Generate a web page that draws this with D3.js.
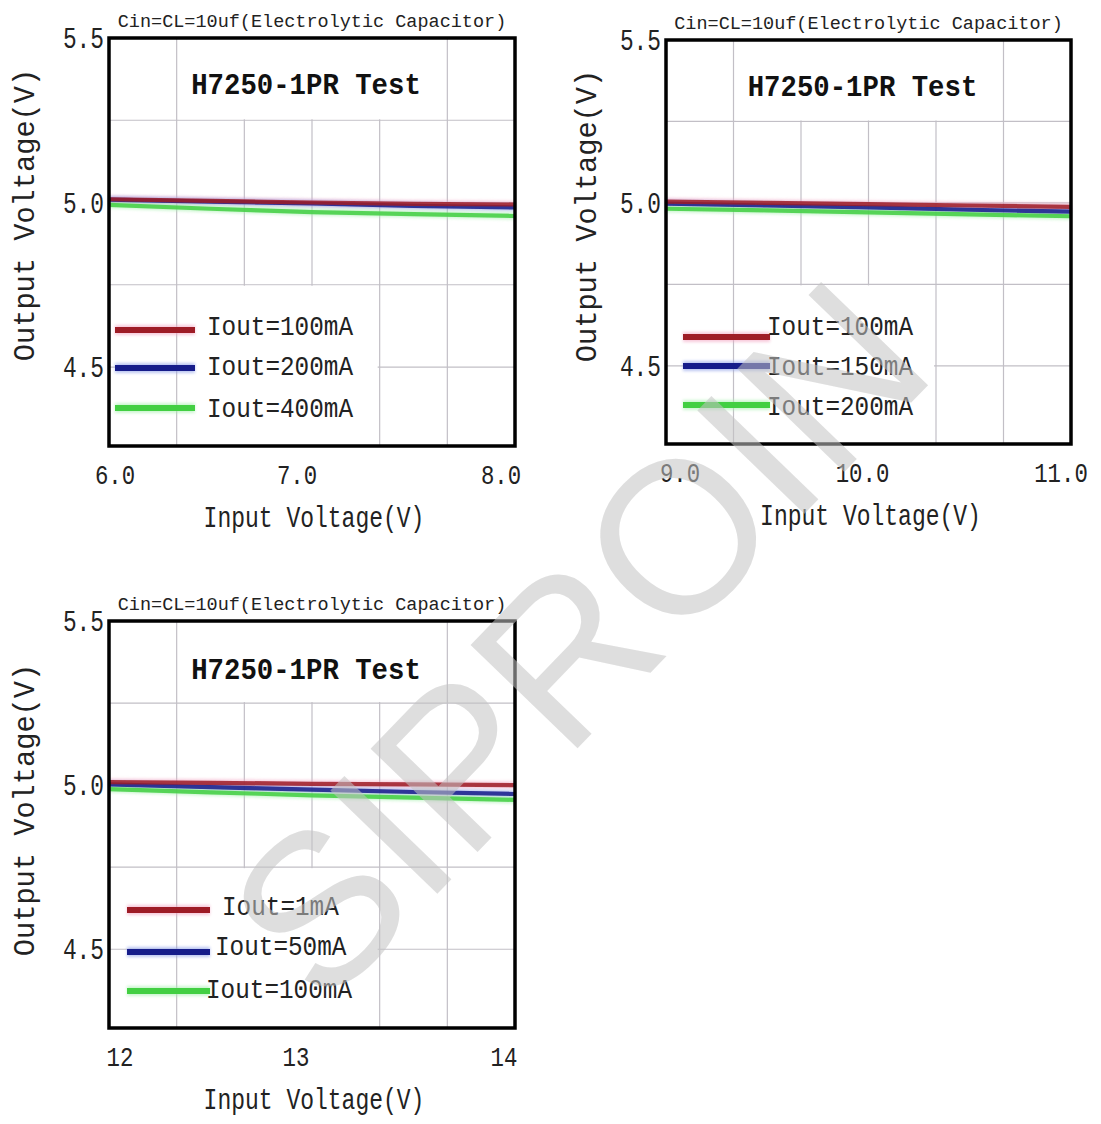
<!DOCTYPE html>
<html>
<head>
<meta charset="utf-8">
<script src="https://cdn.jsdelivr.net/npm/d3@7"></script>
<style>
  body { margin: 0; background: #fff; }
  svg text { font-family: "Liberation Mono", "DejaVu Sans Mono", monospace; fill: #222; }
</style>
</head>
<body>
<div id="chart-area"></div>
<script>
// values
const yTicks = [5.5, 5.0, 4.5];
const yTickLabels = ['5.5', '5.0', '4.5'];
const yGridValues = [5.25, 5.0, 4.75, 4.5];

const vin1 = [6.0, 6.5, 7.0, 7.5, 8.0];
const xTicks1 = [6.0, 7.0, 8.0];
const xTickLabels1 = ['6.0', '7.0', '8.0'];
const legend1 = ['Iout=100mA', 'Iout=200mA', 'Iout=400mA'];
const vout1a = [5.010, 5.005, 5.000, 4.996, 4.994];
const vout1b = [5.009, 5.003, 4.997, 4.990, 4.985];
const vout1c = [4.993, 4.981, 4.971, 4.965, 4.959];

const vin2 = [9.0, 9.5, 10.0, 10.5, 11.0];
const xTicks2 = [9.0, 10.0, 11.0];
const xTickLabels2 = ['9.0', '10.0', '11.0'];
const legend2 = ['Iout=100mA', 'Iout=150mA', 'Iout=200mA'];
const vout2a = [5.004, 5.000, 4.996, 4.992, 4.988];
const vout2b = [4.998, 4.992, 4.986, 4.979, 4.973];
const vout2c = [4.982, 4.977, 4.971, 4.965, 4.959];

const vin3 = [12, 12.5, 13, 13.5, 14];
const xTicks3 = [12, 13, 14];
const xTickLabels3 = ['12', '13', '14'];
const legend3 = ['Iout=1mA', 'Iout=50mA', 'Iout=100mA'];
const vout3a = [5.009, 5.007, 5.004, 5.002, 5.000];
const vout3b = [5.002, 4.994, 4.986, 4.979, 4.973];
const vout3c = [4.988, 4.978, 4.969, 4.962, 4.955];

const subtitle = 'Cin=CL=10uf(Electrolytic Capacitor)';
const title = 'H7250-1PR Test';
const lineColors = ['#9e1c28', '#141a8a', '#42cf42'];
const glowColors = ['#f3a6c4', '#8fa0e8', '#a8f0b0'];

const panels = [
  { vin: vin1, series: [vout1a, vout1b, vout1c], xTicks: xTicks1, xLabels: xTickLabels1, legend: legend1,
    box: [109, 38, 515, 446], xOff: [6, -15, -14], ytitleY: 215, ytitleX: 26, titleY: 86,
    legX: [115, 195], legTextX: [207, 207, 207], legY: [330, 368, 408], legTextY: [328, 368, 410] },
  { vin: vin2, series: [vout2a, vout2b, vout2c], xTicks: xTicks2, xLabels: xTickLabels2, legend: legend2,
    box: [666, 40, 1071, 444], xOff: [14, -6, -10], ytitleY: 216, ytitleX: 588, titleY: 88,
    legX: [683, 770], legTextX: [767, 767, 767], legY: [337, 366, 405], legTextY: [328, 368, 408] },
  { vin: vin3, series: [vout3a, vout3b, vout3c], xTicks: xTicks3, xLabels: xTickLabels3, legend: legend3,
    box: [109, 621, 515, 1028], xOff: [11, -16, -11], ytitleY: 810, ytitleX: 26, titleY: 671,
    legX: [127, 210], legTextX: [222, 215, 206], legY: [910, 952, 991], legTextY: [908, 948, 991] }
];

const svg = d3.select('#chart-area').append('svg')
  .attr('width', 1101)
  .attr('height', 1124);

// filters in page units so flat lines are not clipped away
const defs = svg.append('defs');
[['soft', 0.7], ['glow', 1.8]].forEach(([id, sd]) => {
  defs.append('filter').attr('id', id)
    .attr('filterUnits', 'userSpaceOnUse')
    .attr('x', 0).attr('y', 0).attr('width', 1101).attr('height', 1124)
    .append('feGaussianBlur').attr('stdDeviation', sd);
});

function label(g, s, x, y, size, perChar, anchor, bold) {
  return g.append('text')
    .attr('x', x)
    .attr('y', y)
    .attr('font-size', size)
    .attr('font-weight', bold ? 'bold' : 'normal')
    .attr('text-anchor', anchor || 'start')
    .attr('dominant-baseline', 'central')
    .attr('textLength', s.length * perChar)
    .attr('lengthAdjust', 'spacingAndGlyphs')
    .text(s);
}

panels.forEach(p => {
  const [left, top, right, bottom] = p.box;
  const g = svg.append('g');

  const x = d3.scaleLinear().domain(d3.extent(p.vin)).range([left, right]);
  const y = d3.scaleLinear().domain([4.26, 5.5]).range([bottom, top]);

  // grid: six vertical divisions, quarter volt horizontals
  const xStep = (p.vin[p.vin.length - 1] - p.vin[0]) / 6;
  const xGrid = d3.range(1, 6).map(i => p.vin[0] + i * xStep);

  g.selectAll('.vgrid').data(xGrid).enter().append('line')
    .attr('x1', d => x(d)).attr('x2', d => x(d))
    .attr('y1', top).attr('y2', bottom)
    .attr('stroke', '#c2bfc6').attr('stroke-width', 1.2);

  g.selectAll('.hgrid').data(yGridValues).enter().append('line')
    .attr('x1', left).attr('x2', right)
    .attr('y1', d => y(d)).attr('y2', d => y(d))
    .attr('stroke', '#c2bfc6').attr('stroke-width', 1.2);

  // white boxes behind the title and legend
  g.append('rect')
    .attr('x', x(xGrid[0]) + 2).attr('y', top)
    .attr('width', x(xGrid[4]) - x(xGrid[0]) - 4)
    .attr('height', y(5.25) - top - 1)
    .attr('fill', '#fff');
  g.append('rect')
    .attr('x', x(xGrid[0]) + 2).attr('y', y(4.75) + 1)
    .attr('width', x(xGrid[3]) - x(xGrid[0]) - 4)
    .attr('height', bottom - y(4.75) - 1)
    .attr('fill', '#fff');

  // data lines
  const line = d3.line().x((d, i) => x(p.vin[i])).y(d => y(d));
  p.series.forEach((s, i) => {
    g.append('path').datum(s)
      .attr('d', line).attr('fill', 'none')
      .attr('stroke', glowColors[i]).attr('stroke-width', 7)
      .attr('opacity', 0.6).attr('filter', 'url(#glow)');
  });
  [2, 1, 0].forEach(i => {
    g.append('path').datum(p.series[i])
      .attr('d', line).attr('fill', 'none')
      .attr('stroke', lineColors[i]).attr('stroke-width', 4.2)
      .attr('opacity', 0.85).attr('filter', 'url(#soft)');
  });

  // legend
  p.legend.forEach((name, i) => {
    g.append('line')
      .attr('x1', p.legX[0]).attr('x2', p.legX[1])
      .attr('y1', p.legY[i]).attr('y2', p.legY[i])
      .attr('stroke', glowColors[i]).attr('stroke-width', 10)
      .attr('opacity', 0.6).attr('filter', 'url(#glow)');
    g.append('line')
      .attr('x1', p.legX[0]).attr('x2', p.legX[1])
      .attr('y1', p.legY[i]).attr('y2', p.legY[i])
      .attr('stroke', lineColors[i]).attr('stroke-width', 6)
      .attr('filter', 'url(#soft)');
    label(g, name, p.legTextX[i], p.legTextY[i], 27, 14.6, 'start');
  });

  // frame
  g.append('rect')
    .attr('x', left).attr('y', top)
    .attr('width', right - left).attr('height', bottom - top)
    .attr('fill', 'none').attr('stroke', '#000').attr('stroke-width', 3.5);

  // y tick labels
  yTicks.forEach((v, i) => {
    label(g, yTickLabels[i], left - 5, y(v) + 2, 30, 13.7, 'end');
  });

  // x tick labels
  p.xTicks.forEach((v, i) => {
    label(g, p.xLabels[i], x(v) + p.xOff[i], bottom + 30, 28, 13.4, 'middle');
  });

  label(g, 'Input Voltage(V)', (left + right) / 2 + 2, bottom + 73, 30, 13.8, 'middle');

  label(g, 'Output Voltage(V)', 0, 0, 30, 17.2, 'middle')
    .attr('transform', `translate(${p.ytitleX},${p.ytitleY}) rotate(-90)`);

  label(g, subtitle, (left + right) / 2, top - 16, 19, 11.1, 'middle');
  label(g, title, (left + right) / 2 - 6, p.titleY, 30, 16.4, 'middle', true)
    .style('fill', '#111');
});

// distributor watermark across the page
svg.append('text')
  .attr('transform', 'translate(578,640) rotate(-46)')
  .attr('text-anchor', 'middle')
  .attr('dominant-baseline', 'central')
  .attr('font-size', 216)
  .style('font-family', '"Liberation Sans", Arial, sans-serif')
  .style('fill', '#c4c4c4')
  .attr('opacity', 0.55)
  .text('SIPROIN');
</script>
</body>
</html>
